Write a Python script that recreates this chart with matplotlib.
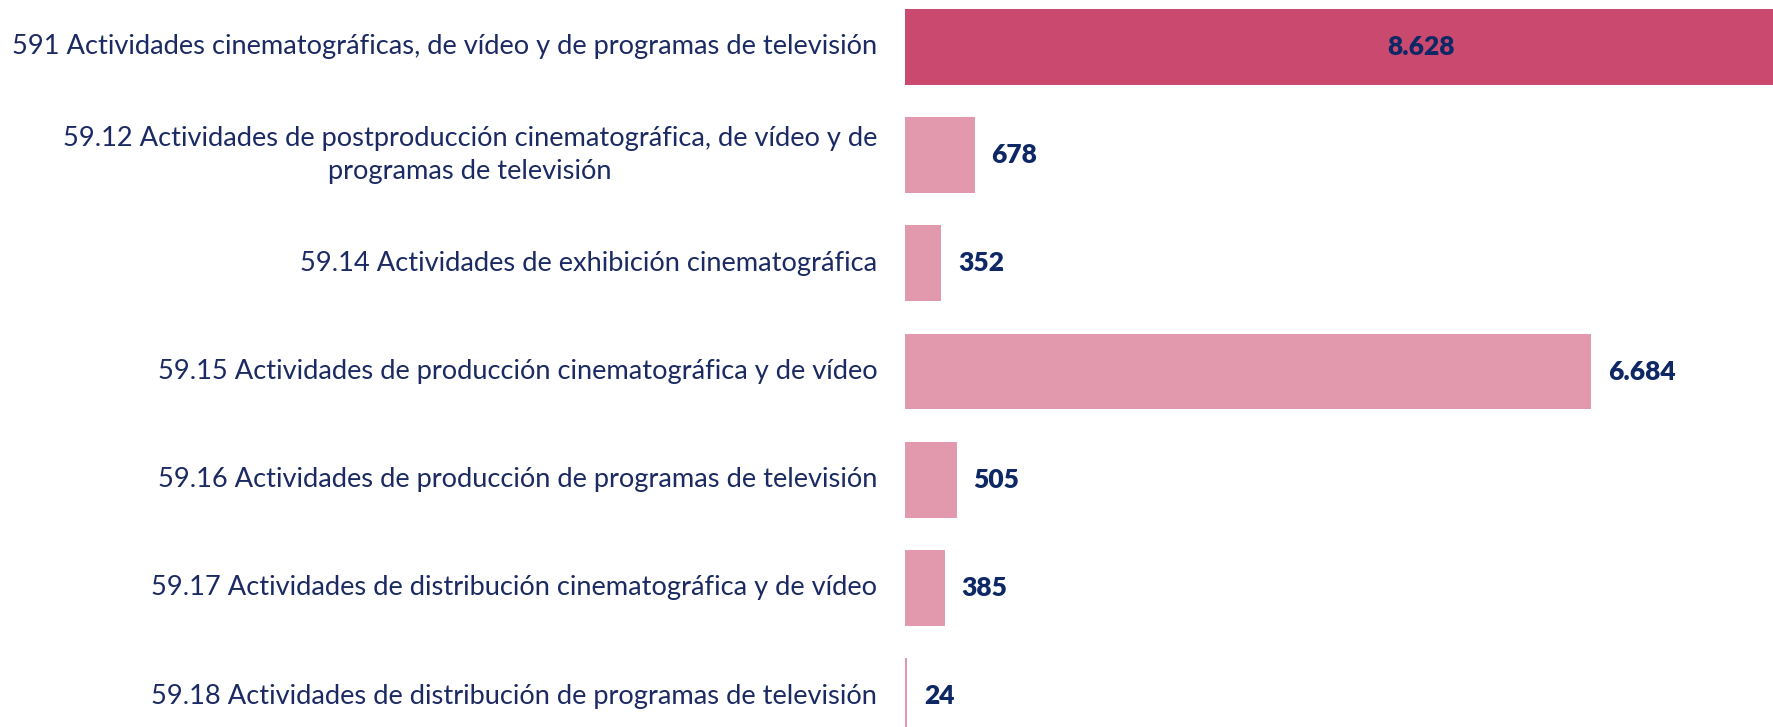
import matplotlib.pyplot as plt

# Datos
categorias = [
    '591 Actividades cinematográficas, de vídeo y de programas de televisión',
    '59.12 Actividades de postproducción cinematográfica, de vídeo y de\nprogramas de televisión',
    '59.14 Actividades de exhibición cinematográfica',
    '59.15 Actividades de producción cinematográfica y de vídeo',
    '59.16 Actividades de producción de programas de televisión',
    '59.17 Actividades de distribución cinematográfica y de vídeo',
    '59.18 Actividades de distribución de programas de televisión',
]
valores = [8628, 678, 352, 6684, 505, 385, 24]
etiquetas = ['8.628', '678', '352', '6.684', '505', '385', '24']

color_total = '#C94A6E'
color_sub = '#E299AE'
color_texto = '#1B2A63'
color_valor = '#0E2866'

plt.rcParams['font.family'] = ['Lato', 'DejaVu Sans']

fig = plt.figure(figsize=(17.73, 7.27), dpi=100)
ax = fig.add_axes([905 / 1773, 0, 1 - 905 / 1773, 1])

y = list(range(len(valores)))
colores = [color_total] + [color_sub] * (len(valores) - 1)
ax.barh(y, valores, height=0.7, color=colores)

ax.set_xlim(0, 8452)
ax.set_ylim(6.285, -0.434)
ax.set_xticks([])
ax.set_yticks([])
for s in ax.spines.values():
    s.set_visible(False)

# Nombres de las categorias (a la izquierda de las barras)
for i, cat in enumerate(categorias):
    ax.annotate(cat, (0, i), xytext=(-20, 0), textcoords='offset points',
                ha='right', va='center', multialignment='center',
                linespacing=1.38, fontsize=19.6, color=color_texto,
                annotation_clip=False)

# Etiquetas de valor
for i, (v, txt) in enumerate(zip(valores, etiquetas)):
    if i == 0:
        ax.text(v * 0.582, i, txt, ha='center', va='center', fontsize=19,
                fontweight='heavy', color=color_valor)
    else:
        ax.annotate(txt, (v, i), xytext=(12, 0), textcoords='offset points',
                    ha='left', va='center', fontsize=19, fontweight='heavy',
                    color=color_valor)

fig.savefig('out.png', dpi=100)
